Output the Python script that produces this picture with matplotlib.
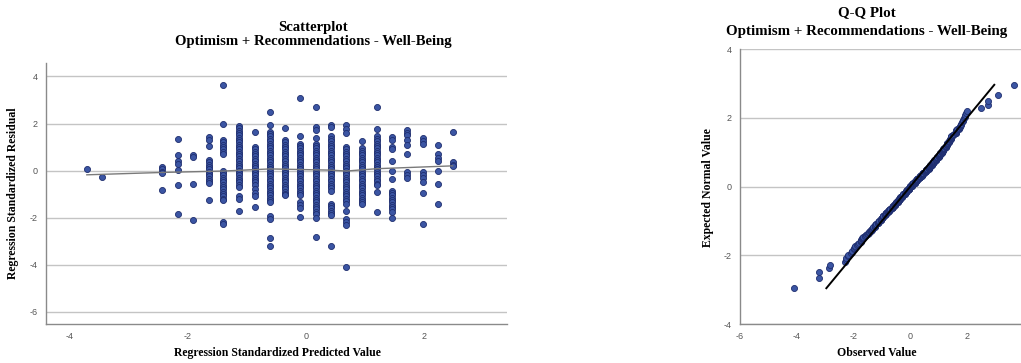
"""Residual diagnostics for the optimism + recommendations model of well-being."""

from __future__ import annotations

from statistics import NormalDist

import matplotlib.pyplot as plt
import numpy as np

# Standardized predicted values (the model yields discrete levels).
predicted_levels = [
    -3.71, -3.45, -2.43, -2.16, -1.92, -1.65, -1.40, -1.13, -0.87, -0.61, -0.36,
    -0.10, 0.16, 0.42, 0.68, 0.94, 1.20, 1.46, 1.71, 1.97, 2.23, 2.48,
]

# Standardized residuals observed at each predicted level.
residuals_by_level = [
    [0.05],
    [-0.28],
    [0.15, 0.05, -0.05, -0.1, -0.82],
    [1.33, 0.67, 0.42, 0.28, 0.03, -0.62, -1.85],
    [0.66, 0.56, -0.56, -2.08],
    [1.42, 1.3, 1.06, 0.45, 0.35, 0.25, 0.15, 0.05, -0.05, -0.15, -0.25, -0.35,
     -0.45, -0.52, -1.25],
    [3.65, 2.0, 1.3, 1.2, 1.1, 1.0, 0.9, 0.8, 0.72, 0.0, -0.1, -0.2, -0.3, -0.4,
     -0.5, -0.6, -0.7, -0.8, -0.9, -1.0, -1.1, -1.2, -1.25, -2.18, -2.28],
    [1.9, 1.8, 1.7, 1.6, 1.5, 1.4, 1.3, 1.2, 1.1, 1.0, 0.9, 0.8, 0.7, 0.6, 0.5,
     0.4, 0.3, 0.2, 0.1, 0.0, -0.1, -0.2, -0.3, -0.4, -0.5, -0.6, -0.7, -1.1,
     -1.2, -1.72],
    [1.62, 1.0, 0.9, 0.8, 0.7, 0.6, 0.5, 0.4, 0.3, 0.2, 0.1, 0.0, -0.1, -0.2,
     -0.3, -0.4, -0.5, -0.6, -0.8, -0.96, -1.1, -1.53],
    [2.5, 1.92, 1.65, 1.55, 1.45, 1.35, 1.25, 1.15, 1.05, 0.95, 0.85, 0.75, 0.65,
     0.55, 0.45, 0.35, 0.25, 0.15, 0.05, -0.05, -0.15, -0.25, -0.35, -0.45,
     -0.55, -0.65, -0.75, -0.85, -0.95, -1.05, -1.15, -1.25, -1.35, -1.95,
     -2.05, -2.88, -3.2],
    [1.82, 1.3, 1.2, 1.1, 1.0, 0.9, 0.8, 0.7, 0.6, 0.5, 0.4, 0.3, 0.2, 0.1, 0.0,
     -0.1, -0.2, -0.3, -0.4, -0.5, -0.6, -0.7, -0.8, -0.9, -1.0, -1.05],
    [3.08, 1.45, 1.15, 1.05, 0.95, 0.85, 0.75, 0.65, 0.55, 0.45, 0.35, 0.25,
     0.15, 0.05, -0.05, -0.15, -0.25, -0.35, -0.45, -0.55, -0.65, -0.75, -0.85,
     -0.95, -1.05, -1.32, -1.45, -1.6, -1.96],
    [2.72, 1.87, 1.74, 1.4, 1.15, 1.05, 0.95, 0.85, 0.75, 0.65, 0.55, 0.45, 0.35,
     0.25, 0.15, 0.05, -0.05, -0.15, -0.25, -0.35, -0.45, -0.55, -0.65, -0.75,
     -0.85, -0.95, -1.05, -1.15, -1.25, -1.35, -1.45, -1.55, -1.65, -1.75,
     -1.85, -2.0, -2.84],
    [1.95, 1.85, 1.45, 1.35, 1.25, 1.15, 1.05, 0.95, 0.85, 0.75, 0.65, 0.55,
     0.45, 0.35, 0.25, 0.15, 0.05, -0.05, -0.15, -0.25, -0.35, -0.45, -0.55,
     -0.65, -0.75, -0.85, -1.4, -1.5, -1.6, -1.7, -1.8, -1.88, -3.2],
    [1.92, 1.75, 1.6, 1.0, 0.9, 0.8, 0.7, 0.6, 0.5, 0.4, 0.3, 0.2, 0.1, 0.0,
     -0.1, -0.2, -0.3, -0.4, -0.5, -0.6, -0.7, -0.8, -0.9, -1.0, -1.1, -1.2,
     -1.3, -1.4, -1.7, -2.05, -2.2, -2.3, -4.1],
    [1.24, 0.95, 0.85, 0.75, 0.65, 0.55, 0.45, 0.35, 0.25, 0.15, 0.05, -0.05,
     -0.15, -0.25, -0.35, -0.45, -0.55, -0.65, -0.75, -0.85, -0.95, -1.05,
     -1.15, -1.25, -1.33, -1.4],
    [2.72, 1.78, 1.45, 1.35, 1.25, 1.15, 1.05, 0.95, 0.85, 0.75, 0.65, 0.55,
     0.45, 0.35, 0.25, 0.15, 0.05, -0.05, -0.15, -0.25, -0.35, -0.45, -0.55,
     -0.62, -0.9, -1.75],
    [1.43, 1.31, 1.0, 0.92, 0.4, 0.0, -0.35, -0.85, -0.95, -1.05, -1.15, -1.25,
     -1.35, -1.45, -1.55, -1.65, -1.75, -2.0],
    [1.72, 1.6, 1.5, 1.3, 1.1, 0.7, -0.05, -0.2, -0.33],
    [1.38, 1.25, 1.12, -0.08, -0.2, -0.32, -0.47, -0.95, -2.26],
    [1.1, 0.7, 0.55, 0.4, 0.0, -0.55, -1.42],
    [1.62, 0.35, 0.24, 0.2],
]

# Smoothed fit through the residuals.
fit_x = [-3.71, -2.43, -1.40, -0.61, -0.20, 0.40, 0.68, 1.20, 2.48]
fit_y = [-0.18, -0.08, -0.02, 0.07, 0.05, 0.02, -0.02, 0.08, 0.20]

MODEL = "Optimism + Recommendations - Well-Being"
POINT = "#3b55a3"
EDGE = "#1e2d6e"
GRID = "#c4c4c4"
SERIF = "Liberation Serif"
WIDTH, HEIGHT = 1021, 363

plt.rcParams["axes.unicode_minus"] = False


def _px(x: float, y: float) -> tuple[float, float]:
    """Convert pixel position (from top-left) to figure fraction."""
    return x / WIDTH, 1 - y / HEIGHT


def _style_axis(axis: plt.Axes) -> None:
    axis.set_facecolor("white")
    for side in ("top", "right"):
        axis.spines[side].set_visible(False)
    for side in ("left", "bottom"):
        axis.spines[side].set_color("#8a8a8a")
        axis.spines[side].set_linewidth(1.0)
    axis.grid(axis="y", color=GRID, linewidth=1.0)
    axis.set_axisbelow(True)
    axis.tick_params(length=0, labelsize=6.5, labelcolor="#555555", pad=6)
    for label in axis.get_xticklabels() + axis.get_yticklabels():
        label.set_fontfamily("Liberation Sans")


def _label(figure: plt.Figure, x: float, y: float, text: str, *,
           size: float = 8.5, rotation: float = 0) -> None:
    figure.text(*_px(x, y), text, ha="center", va="center", rotation=rotation,
                fontfamily=SERIF, fontweight="bold", fontsize=size)


figure = plt.figure(figsize=(WIDTH / 100, HEIGHT / 100), dpi=100)

# Residuals against predicted values.
scatter_axis = figure.add_axes([0.0451, 0.1074, 0.4515, 0.719])
x_values = np.concatenate(
    [np.full(len(res), lvl) for lvl, res in zip(predicted_levels, residuals_by_level)]
)
y_values = np.concatenate([np.asarray(res, dtype=float) for res in residuals_by_level])
scatter_axis.scatter(
    x_values, y_values, s=19, color=POINT, edgecolors=EDGE, linewidths=0.6, zorder=3
)
scatter_axis.plot(fit_x, fit_y, color="#7a7a7a", linewidth=1.0, zorder=4)
scatter_axis.set_xlim(-4.4, 3.4)
scatter_axis.set_ylim(-6.52, 4.57)
scatter_axis.set_xticks([-4, -2, 0, 2])
scatter_axis.set_yticks([-6, -4, -2, 0, 2, 4])
_style_axis(scatter_axis)
_label(figure, 277, 353, "Regression Standardized Predicted Value")
_label(figure, 13, 193, "Regression Standardized Residual", rotation=90)
_label(figure, 313, 27, "Scatterplot", size=10.6)
_label(figure, 313, 42, MODEL, size=10.6)

# Normal Q-Q plot of the same residuals (Blom plotting positions).
observed = np.sort(y_values)
count = len(observed)
normal = NormalDist()
expected = np.array(
    [normal.inv_cdf((rank - 0.375) / (count + 0.25)) for rank in range(1, count + 1)]
)

qq_axis = figure.add_axes([0.7248, 0.1074, 0.2752, 0.7576])
qq_axis.scatter(
    observed, expected, s=19, color=POINT, edgecolors=EDGE, linewidths=0.6, zorder=3
)
qq_axis.plot(
    [expected.min(), expected.max()], [expected.min(), expected.max()],
    color="black", linewidth=1.4, zorder=4,
)
qq_axis.set_xlim(-6, 3.9)
qq_axis.set_ylim(-4, 4)
qq_axis.set_xticks([-6, -4, -2, 0, 2])
qq_axis.set_yticks([-4, -2, 0, 2, 4])
_style_axis(qq_axis)
_label(figure, 877, 353, "Observed Value")
_label(figure, 708, 188, "Expected Normal Value", rotation=90)
_label(figure, 867, 13, "Q-Q Plot", size=10.8)
_label(figure, 867, 31, MODEL, size=10.8)

figure.savefig("out.png", dpi=100, facecolor="white")
plt.close(figure)
